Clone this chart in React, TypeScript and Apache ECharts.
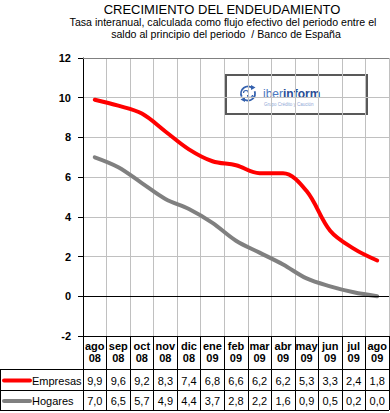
import React, { useEffect, useRef } from "react";
import * as echarts from "echarts";

const months = ["ago", "sep", "oct", "nov", "dic", "ene", "feb", "mar", "abr", "may", "jun", "jul", "ago"];
const years = ["08", "08", "08", "08", "08", "09", "09", "09", "09", "09", "09", "09", "09"];
const empresas = [9.9, 9.6, 9.2, 8.3, 7.4, 6.8, 6.6, 6.2, 6.2, 5.3, 3.3, 2.4, 1.8];
const hogares = [7.0, 6.5, 5.7, 4.9, 4.4, 3.7, 2.8, 2.2, 1.6, 0.9, 0.5, 0.2, 0.0];
const yMin = -2;
const yMax = 12;
const yStep = 2;

const seriesNames = ["Empresas", "Hogares"];
const seriesColors = ["#FF0000", "#808080"];

const FONT = "'Liberation Sans', Arial, sans-serif";
const fmt = (v: number) => v.toFixed(1).replace(".", ",");

export default function App() {
  const ref = useRef<HTMLDivElement>(null);
  useEffect(() => {
    document.body.style.margin = "0";
    const chart = echarts.init(ref.current!, null, { renderer: "svg" });
    const categories = months.map((m, i) => m + "\n" + years[i]);
    const gridLeft = 83;
    const gridTop = 58;
    const gridBottom = 77;
    const W = 390;
    const H = 413;
    const plotBottom = H - gridBottom;
    const row1 = plotBottom + 33;
    const row2 = plotBottom + 54;
    const row3 = plotBottom + 74;
    const gridRight = W - 1;

    const rowAxis = (vals: number[], offset: number, margin: number) => ({
      type: "category",
      gridIndex: 0,
      position: "bottom",
      offset,
      data: vals.map(fmt),
      boundaryGap: true,
      axisLine: { show: false },
      axisTick: { show: false },
      splitLine: { show: false },
      axisLabel: {
        interval: 0,
        margin,
        fontSize: 11,
        fontFamily: FONT,
        color: "#000",
      },
    });

    const centerText = (x: number, y: number, text: string, size: number) => ({
      type: "text",
      x,
      y,
      style: {
        text,
        align: "center",
        verticalAlign: "middle",
        fontSize: size,
        fontFamily: FONT,
        fill: "#000",
      },
    });

    const blue = "#3461AE";

    chart.setOption({
      animation: false,
      backgroundColor: "#fff",
      grid: { left: gridLeft, top: gridTop, right: W - gridRight, bottom: gridBottom, containLabel: false },
      xAxis: [
        {
          type: "category",
          data: categories,
          boundaryGap: true,
          axisLine: { show: true, onZero: false, lineStyle: { color: "#000", width: 1 } },
          axisTick: { show: true, length: 74, interval: 0, lineStyle: { color: "#000", width: 1 } },
          splitLine: { show: true, interval: 0, lineStyle: { color: "#C0C0C0", width: 1 } },
          axisLabel: {
            interval: 0,
            margin: 4,
            fontSize: 11,
            fontWeight: "bold",
            lineHeight: 12,
            fontFamily: FONT,
            color: "#000",
          },
        },
        rowAxis(empresas, 33, 6),
        rowAxis(hogares, 54, 5),
      ],
      yAxis: {
        type: "value",
        min: yMin,
        max: yMax,
        interval: yStep,
        axisLine: { show: true, lineStyle: { color: "#000", width: 1 } },
        axisTick: { show: true, length: 5, lineStyle: { color: "#000" } },
        splitLine: { show: true, lineStyle: { color: "#C0C0C0", width: 1 } },
        axisLabel: {
          margin: 12,
          fontSize: 11,
          fontWeight: "bold",
          fontFamily: FONT,
          color: "#000",
        },
      },
      series: [
        {
          name: seriesNames[0],
          type: "line",
          data: empresas,
          smooth: 0.35,
          showSymbol: false,
          symbol: "none",
          lineStyle: { color: seriesColors[0], width: 4, cap: "round" },
          z: 3,
          markLine: {
            silent: true,
            symbol: "none",
            label: { show: false },
            data: [
              { yAxis: 0, lineStyle: { color: "#000", width: 1, type: "solid" } },
              { yAxis: yMax, lineStyle: { color: "#808080", width: 1, type: "solid" } },
            ],
          },
        },
        {
          name: seriesNames[1],
          type: "line",
          data: hogares,
          smooth: 0.35,
          showSymbol: false,
          symbol: "none",
          lineStyle: { color: seriesColors[1], width: 4, cap: "round" },
          z: 3,
        },
      ],
      graphic: [
        centerText(222, 9, "CRECIMIENTO DEL ENDEUDAMIENTO", 13),
        centerText(223, 22, "Tasa interanual, calculada como flujo efectivo del periodo entre el", 10.6),
        centerText(226, 34, "saldo al principio del periodo  / Banco de España", 10.6),
        // table horizontal lines
        { type: "line", shape: { x1: 0, y1: row1 + 0.5, x2: gridRight, y2: row1 + 0.5 }, style: { stroke: "#000", lineWidth: 1 } },
        { type: "line", shape: { x1: 0, y1: row2 + 0.5, x2: gridRight, y2: row2 + 0.5 }, style: { stroke: "#000", lineWidth: 1 } },
        { type: "line", shape: { x1: 0, y1: row3 + 0.5, x2: gridRight, y2: row3 + 0.5 }, style: { stroke: "#000", lineWidth: 1 } },
        { type: "line", shape: { x1: 0.5, y1: row1, x2: 0.5, y2: row3 }, style: { stroke: "#000", lineWidth: 1 } },
        // legend keys
        { type: "line", shape: { x1: 4, y1: (row1 + row2) / 2 + 1, x2: 30, y2: (row1 + row2) / 2 + 1 }, style: { stroke: seriesColors[0], lineWidth: 4, lineCap: "round" } },
        { type: "line", shape: { x1: 4, y1: (row2 + row3) / 2 + 1, x2: 30, y2: (row2 + row3) / 2 + 1 }, style: { stroke: seriesColors[1], lineWidth: 4, lineCap: "round" } },
        {
          type: "text",
          x: 32,
          y: (row1 + row2) / 2 + 1,
          style: { text: seriesNames[0], verticalAlign: "middle", fontSize: 11, fontFamily: FONT, fill: "#000" },
        },
        {
          type: "text",
          x: 32,
          y: (row2 + row3) / 2 + 1,
          style: { text: seriesNames[1], verticalAlign: "middle", fontSize: 11, fontFamily: FONT, fill: "#000" },
        },
        // logo box
        {
          type: "group",
          z: 100,
          children: [
            { type: "rect", shape: { x: 226, y: 75, width: 141, height: 39 }, style: { fill: "#fff", stroke: "#595959", lineWidth: 2 } },
            { type: "arc", shape: { cx: 248, cy: 93.5, r: 7, startAngle: Math.PI * 0.85, endAngle: Math.PI * 1.75 }, style: { stroke: blue, lineWidth: 1.8, fill: "none" } },
            { type: "arc", shape: { cx: 248, cy: 93.5, r: 7, startAngle: Math.PI * 1.9, endAngle: Math.PI * 0.65 }, style: { stroke: blue, lineWidth: 1.8, fill: "none" } },
            { type: "polygon", shape: { points: [[251, 85], [255.5, 87.5], [251, 90]] }, style: { fill: blue } },
            { type: "polygon", shape: { points: [[245, 102], [240.5, 99.5], [245, 97]] }, style: { fill: blue } },
            { type: "arc", shape: { cx: 246, cy: 93, r: 2.5, startAngle: Math.PI * 1.0, endAngle: Math.PI * 2.0 }, style: { stroke: blue, lineWidth: 1.2, fill: "none" } },
            { type: "arc", shape: { cx: 250, cy: 95, r: 2.5, startAngle: 0, endAngle: Math.PI }, style: { stroke: blue, lineWidth: 1.2, fill: "none" } },
            {
              type: "text",
              x: 263,
              y: 94,
              style: {
                text: "{a|iber}{b|inform}",
                verticalAlign: "middle",
                rich: {
                  a: { fontSize: 12, fontFamily: FONT, fill: "#4A76C0", color: "#4A76C0" },
                  b: { fontSize: 12, fontFamily: FONT, fontWeight: "bold", fill: "#2A4E96", color: "#2A4E96" },
                },
              },
            },
            {
              type: "text",
              x: 264,
              y: 104,
              style: { text: "Grupo Crédito y Caución", verticalAlign: "middle", fontSize: 4.5, fontFamily: FONT, fill: "#8FA8D6" },
            },
          ],
        },
      ],
    });
    return () => chart.dispose();
  }, []);
  return <div ref={ref} style={{ width: 390, height: 413 }} />;
}
